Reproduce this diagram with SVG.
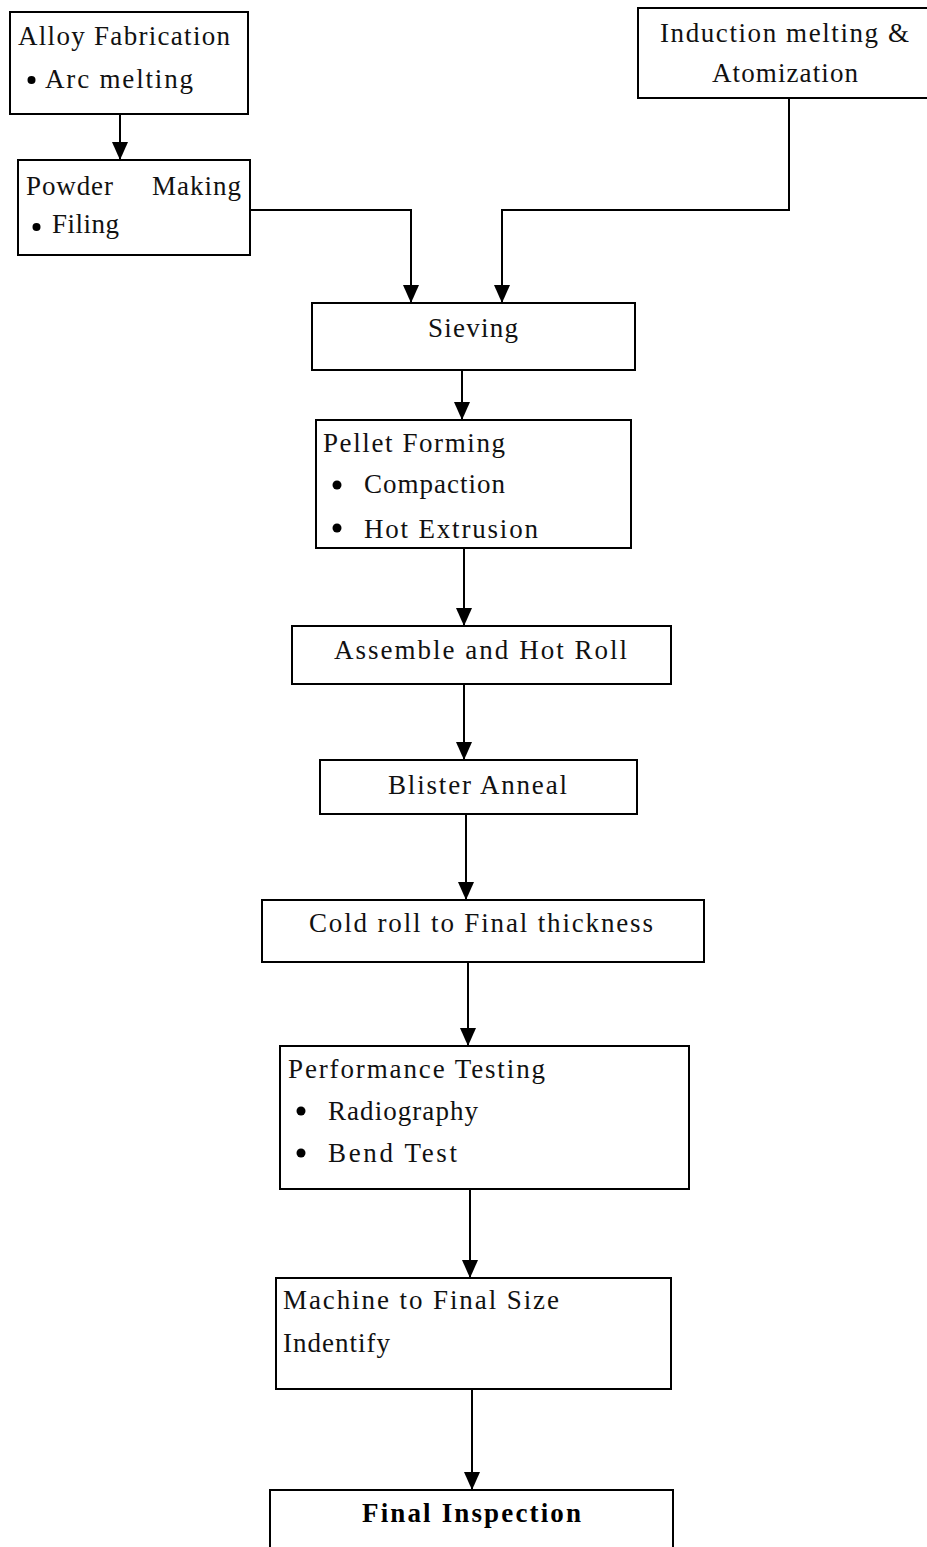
<svg xmlns="http://www.w3.org/2000/svg" width="927" height="1547" viewBox="0 0 927 1547">
<style>
.box{fill:#fff;stroke:#000;stroke-width:2}
.t{font-family:"Liberation Serif","Times New Roman",serif;font-size:27px;fill:#111}
.b{font-family:"Liberation Serif","Times New Roman",serif;font-size:27px;font-weight:bold;fill:#000}
.dot{fill:#000}
.c{fill:none;stroke:#000;stroke-width:2}
</style>
<defs>
<marker id="ah" markerUnits="userSpaceOnUse" markerWidth="18" markerHeight="16" refX="18" refY="8" orient="auto">
<path d="M0,0 L18,8 L0,16 z" fill="#000"/>
</marker>
</defs>
<rect width="927" height="1547" fill="#fff"/>
<g id="connectors">
<path class="c" d="M120,114 V160" marker-end="url(#ah)"/>
<path class="c" d="M248,210 H411 V303" marker-end="url(#ah)"/>
<path class="c" d="M789,98 V210 H502 V303" marker-end="url(#ah)"/>
<path class="c" d="M462,370 V420" marker-end="url(#ah)"/>
<path class="c" d="M464,548 V626" marker-end="url(#ah)"/>
<path class="c" d="M464,684 V760" marker-end="url(#ah)"/>
<path class="c" d="M466,814 V900" marker-end="url(#ah)"/>
<path class="c" d="M468,962 V1046" marker-end="url(#ah)"/>
<path class="c" d="M470,1189 V1278" marker-end="url(#ah)"/>
<path class="c" d="M472,1389 V1490" marker-end="url(#ah)"/>
</g>
<g id="alloy">
<rect class="box" x="10" y="12" width="238" height="102"/>
<text class="t" x="18" y="45" textLength="212">Alloy Fabrication</text>
<circle class="dot" cx="31.5" cy="80" r="4"/>
<text class="t" x="45" y="88" textLength="148">Arc melting</text>
</g>
<g id="powder">
<rect class="box" x="18" y="160" width="232" height="95"/>
<text class="t" x="26" y="195" textLength="87">Powder</text>
<text class="t" x="152" y="195" textLength="89">Making</text>
<circle class="dot" cx="36.5" cy="227" r="4"/>
<text class="t" x="52" y="233" textLength="67">Filing</text>
</g>
<g id="induction">
<rect class="box" x="638" y="8" width="292" height="90"/>
<text class="t" x="660" y="42" textLength="249">Induction melting &amp;</text>
<text class="t" x="712" y="82" textLength="146">Atomization</text>
</g>
<g id="sieving">
<rect class="box" x="312" y="303" width="323" height="67"/>
<text class="t" x="428" y="337" textLength="90">Sieving</text>
</g>
<g id="pellet">
<rect class="box" x="316" y="420" width="315" height="128"/>
<text class="t" x="323" y="452" textLength="182">Pellet Forming</text>
<circle class="dot" cx="337" cy="485" r="4.5"/>
<text class="t" x="364" y="493" textLength="141">Compaction</text>
<circle class="dot" cx="337" cy="528" r="4.5"/>
<text class="t" x="364" y="538" textLength="174">Hot Extrusion</text>
</g>
<g id="assemble">
<rect class="box" x="292" y="626" width="379" height="58"/>
<text class="t" x="334" y="659" textLength="293">Assemble and Hot Roll</text>
</g>
<g id="blister">
<rect class="box" x="320" y="760" width="317" height="54"/>
<text class="t" x="388" y="794" textLength="179">Blister Anneal</text>
</g>
<g id="coldroll">
<rect class="box" x="262" y="900" width="442" height="62"/>
<text class="t" x="309" y="932" textLength="344">Cold roll to Final thickness</text>
</g>
<g id="performance">
<rect class="box" x="280" y="1046" width="409" height="143"/>
<text class="t" x="288" y="1078" textLength="257">Performance Testing</text>
<circle class="dot" cx="301" cy="1111" r="4.5"/>
<text class="t" x="328" y="1120" textLength="150">Radiography</text>
<circle class="dot" cx="301" cy="1153" r="4.5"/>
<text class="t" x="328" y="1162" textLength="129">Bend Test</text>
</g>
<g id="machine">
<rect class="box" x="276" y="1278" width="395" height="111"/>
<text class="t" x="283" y="1309" textLength="276">Machine to Final Size</text>
<text class="t" x="283" y="1352" textLength="107">Indentify</text>
</g>
<g id="final">
<rect class="box" x="270" y="1490" width="403" height="70"/>
<text class="b" x="362" y="1522" textLength="219">Final Inspection</text>
</g>
</svg>
